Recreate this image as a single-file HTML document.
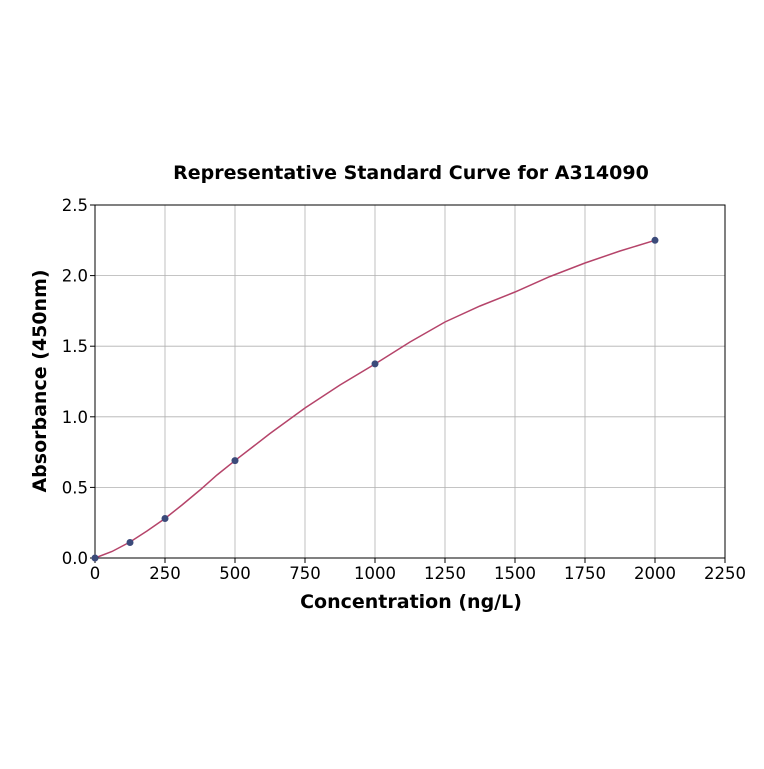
<!DOCTYPE html>
<html><head><style>body{margin:0;background:#fff}</style></head><body>
<svg width="764" height="764" xmlns="http://www.w3.org/2000/svg" font-family="DejaVu Sans, Liberation Sans, sans-serif">
<rect width="764" height="764" fill="#fff"/>
<g stroke="#b0b0b0" stroke-width="0.8">
<line x1="165" y1="205" x2="165" y2="558"/><line x1="235" y1="205" x2="235" y2="558"/><line x1="305" y1="205" x2="305" y2="558"/><line x1="375" y1="205" x2="375" y2="558"/><line x1="445" y1="205" x2="445" y2="558"/><line x1="515" y1="205" x2="515" y2="558"/><line x1="585" y1="205" x2="585" y2="558"/><line x1="655" y1="205" x2="655" y2="558"/>
<line x1="95" y1="487.4" x2="725" y2="487.4"/><line x1="95" y1="416.8" x2="725" y2="416.8"/><line x1="95" y1="346.2" x2="725" y2="346.2"/><line x1="95" y1="275.6" x2="725" y2="275.6"/>
</g>
<rect x="95" y="205" width="630" height="353" fill="none" stroke="#000" stroke-width="1"/>
<g stroke="#000">
<line x1="95" y1="558" x2="95" y2="563"/><line x1="165" y1="558" x2="165" y2="563"/><line x1="235" y1="558" x2="235" y2="563"/><line x1="305" y1="558" x2="305" y2="563"/><line x1="375" y1="558" x2="375" y2="563"/><line x1="445" y1="558" x2="445" y2="563"/><line x1="515" y1="558" x2="515" y2="563"/><line x1="585" y1="558" x2="585" y2="563"/><line x1="655" y1="558" x2="655" y2="563"/><line x1="725" y1="558" x2="725" y2="563"/>
<line x1="90" y1="558" x2="95" y2="558"/><line x1="90" y1="487.4" x2="95" y2="487.4"/><line x1="90" y1="416.8" x2="95" y2="416.8"/><line x1="90" y1="346.2" x2="95" y2="346.2"/><line x1="90" y1="275.6" x2="95" y2="275.6"/><line x1="90" y1="205" x2="95" y2="205"/>
</g>
<g font-size="16.5" text-anchor="middle" fill="#000">
<text x="95" y="579">0</text><text x="165" y="579">250</text><text x="235" y="579">500</text><text x="305" y="579">750</text><text x="375" y="579">1000</text><text x="445" y="579">1250</text><text x="515" y="579">1500</text><text x="585" y="579">1750</text><text x="655" y="579">2000</text><text x="725" y="579">2250</text>
</g>
<g font-size="16.5" text-anchor="end" fill="#000">
<text x="88" y="564">0.0</text><text x="88" y="493.4">0.5</text><text x="88" y="422.8">1.0</text><text x="88" y="352.2">1.5</text><text x="88" y="281.6">2.0</text><text x="88" y="211">2.5</text>
</g>
<text x="411" y="179" font-size="19" font-weight="bold" text-anchor="middle">Representative Standard Curve for A314090</text>
<text x="411" y="608" font-size="19" font-weight="bold" text-anchor="middle">Concentration (ng/L)</text>
<text transform="translate(46,381) rotate(-90)" font-size="19" font-weight="bold" text-anchor="middle">Absorbance (450nm)</text>
<polyline fill="none" stroke="#b5446a" stroke-width="1.5" points="95,558 112,551.5 130,542 147,531 165,518.5 182,505 200,490 217,475 235,460.6 270,433.5 305,408 340,385 375,364 410,342 445,322 480,306 515,292 550,276.5 585,263 620,251 655,240.3"/>
<g fill="#3b4a7a">
<circle cx="95" cy="558" r="3.5"/><circle cx="130" cy="542.5" r="3.5"/><circle cx="165" cy="518.5" r="3.5"/><circle cx="235" cy="460.6" r="3.5"/><circle cx="375" cy="363.9" r="3.5"/><circle cx="655" cy="240.3" r="3.5"/>
</g>
</svg>
</body></html>
